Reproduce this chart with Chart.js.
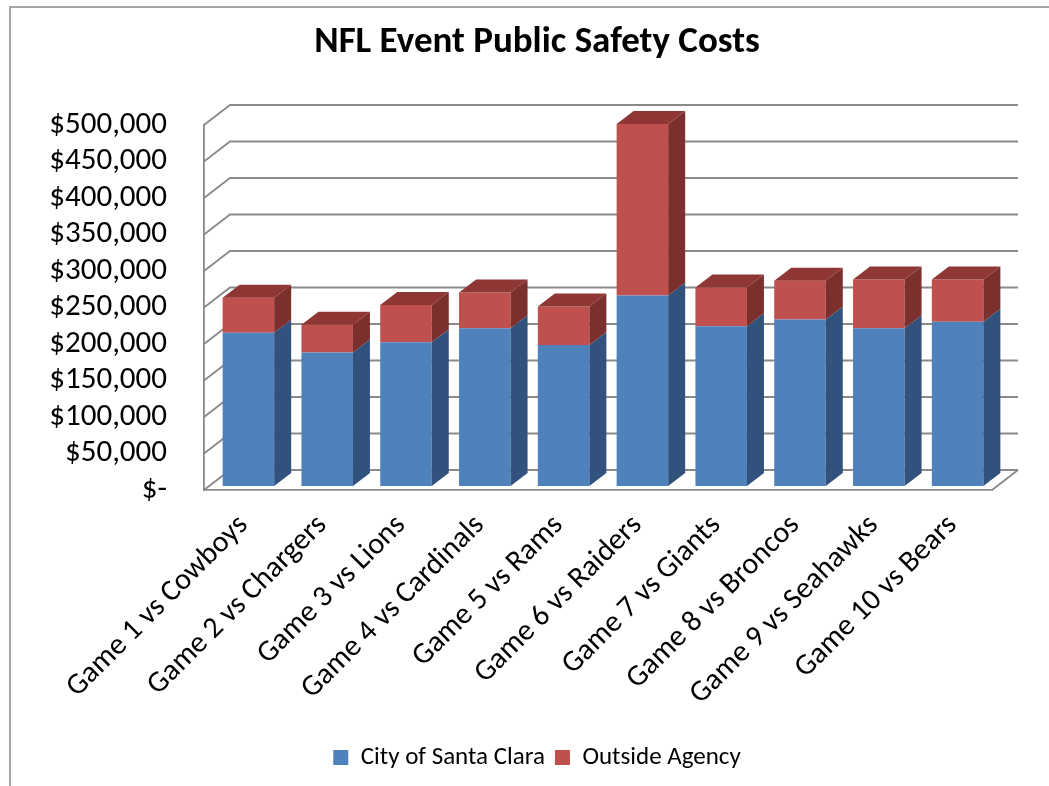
<!DOCTYPE html>
<html><head><meta charset="utf-8">
<script src="https://cdn.jsdelivr.net/npm/chart.js@4.4.1/dist/chart.umd.min.js"></script>
<style>html,body{margin:0;padding:0;background:#fff;}canvas{display:block;}</style>
</head><body>
<canvas id="c" width="1049" height="786"></canvas>
<script>
const categories = ['Game 1 vs Cowboys','Game 2 vs Chargers','Game 3 vs Lions','Game 4 vs Cardinals','Game 5 vs Rams','Game 6 vs Raiders','Game 7 vs Giants','Game 8 vs Broncos','Game 9 vs Seahawks','Game 10 vs Bears'];
const citySantaClara = [210000,183000,197000,216000,193000,261000,219000,228000,216000,225000];
const outsideAgency = [48000,38000,51000,49000,53000,235000,53000,53000,67000,58000];
const yTickValues = [0,50000,100000,150000,200000,250000,300000,350000,400000,450000,500000];
const yTickLabels = ['$-','$50,000','$100,000','$150,000','$200,000','$250,000','$300,000','$350,000','$400,000','$450,000','$500,000'];

const FONT = "Carlito, Lato, 'Liberation Sans', sans-serif";
const GRID = '#8a8a8a';

const threeD = {
  id: 'threeD',
  beforeDraw(chart) {
    const ctx = chart.ctx;
    ctx.save();
    ctx.strokeStyle = '#a6a6a6'; ctx.lineWidth = 2;
    ctx.beginPath(); ctx.moveTo(10, 800); ctx.lineTo(10, 7); ctx.lineTo(1060, 7); ctx.stroke();
    ctx.restore();
  },
  beforeDatasetsDraw(chart) {
    const ctx = chart.ctx, a = chart.chartArea, y = chart.scales.y;
    ctx.save();
    ctx.strokeStyle = GRID; ctx.lineWidth = 1.8;
    yTickValues.forEach(v => {
      const py = y.getPixelForValue(v);
      ctx.beginPath();
      ctx.moveTo(a.left, py); ctx.lineTo(a.left + 26, py - 20); ctx.lineTo(a.right + 26, py - 20);
      ctx.stroke();
    });
    ctx.beginPath(); ctx.moveTo(a.right, a.bottom); ctx.lineTo(a.right + 26, a.bottom - 20); ctx.stroke();
    ctx.restore();
    ctx.save();
    ctx.translate(5, -4);
  },
  afterDatasetsDraw(chart) {
    const ctx = chart.ctx;
    const n = chart.data.datasets.length;
    chart.data.datasets.forEach((ds, di) => {
      const meta = chart.getDatasetMeta(di);
      meta.data.forEach(bar => {
        const p = bar.getProps(['x','y','base','width'], true);
        const l = p.x - p.width / 2, r = p.x + p.width / 2;
        ctx.fillStyle = ds.sideColor;
        ctx.beginPath();
        ctx.moveTo(r, p.y); ctx.lineTo(r + 17, p.y - 13); ctx.lineTo(r + 17, p.base - 13); ctx.lineTo(r, p.base);
        ctx.closePath(); ctx.fill();
        if (di === n - 1) {
          ctx.fillStyle = ds.topColor;
          ctx.beginPath();
          ctx.moveTo(l, p.y); ctx.lineTo(l + 17, p.y - 13); ctx.lineTo(r + 17, p.y - 13); ctx.lineTo(r, p.y);
          ctx.closePath(); ctx.fill();
        }
      });
    });
    ctx.restore();
  }
};

new Chart(document.getElementById('c'), {
  type: 'bar',
  data: {
    labels: categories,
    datasets: [
      { label: 'City of Santa Clara', data: citySantaClara, backgroundColor: '#4F81BD', sideColor: '#31527C', topColor: '#3F6797', borderWidth: 0, clip: false },
      { label: 'Outside Agency', data: outsideAgency, backgroundColor: '#C0504D', sideColor: '#7C302E', topColor: '#8F3735', borderWidth: 0, clip: false }
    ]
  },
  options: {
    responsive: false,
    animation: false,
    devicePixelRatio: 1,
    events: [],
    barPercentage: 0.654,
    categoryPercentage: 1.0,
    layout: { padding: { left: 25, right: 0, top: 0, bottom: 6 } },
    plugins: {
      title: { display: true, text: 'NFL Event Public Safety Costs', color: '#000',
        font: { family: FONT, size: 37, weight: 'bold' }, padding: { top: 20.8, bottom: 59.8 } },
      legend: { position: 'bottom',
        labels: { color: '#000', font: { family: FONT, size: 25 }, boxWidth: 15, boxHeight: 15, padding: 10 } },
      tooltip: { enabled: false }
    },
    scales: {
      x: {
        stacked: true,
        grid: { display: false },
        border: { display: true, color: GRID, width: 1.8 },
        ticks: { color: '#000', font: { family: FONT, size: 30 }, maxRotation: 45, minRotation: 45, autoSkip: false, padding: 10 },
        afterFit(scale) { scale.height = 245; }
      },
      y: {
        stacked: true,
        min: 0, max: 500000,
        afterBuildTicks(scale) { scale.ticks = yTickValues.map(v => ({ value: v })); },
        grid: { display: false },
        border: { display: true, color: GRID, width: 1.8 },
        ticks: { color: '#000', font: { family: FONT, size: 31 }, padding: 29, autoSkip: false,
          callback(v) { const i = yTickValues.indexOf(v); return i >= 0 ? yTickLabels[i] : ''; } },
        afterFit(scale) { scale.width = 179; }
      },
      yRight: {
        position: 'right',
        display: true,
        grid: { display: false },
        border: { display: false },
        ticks: { display: false },
        afterFit(scale) { scale.width = 57; }
      }
    }
  },
  plugins: [threeD]
});
</script>
</body></html>
